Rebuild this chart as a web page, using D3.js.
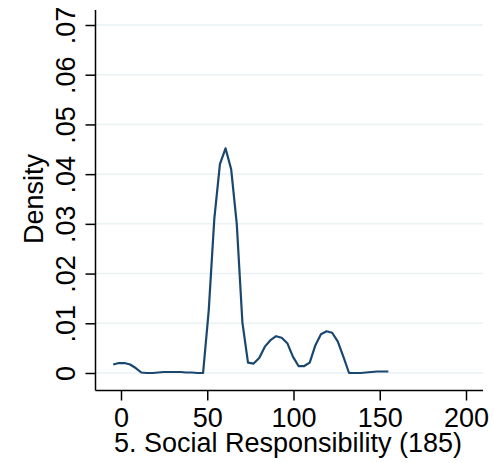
<!DOCTYPE html>
<html><head><meta charset="utf-8">
<script src="https://cdn.jsdelivr.net/npm/d3@7"></script>
<style>body{margin:0;background:#fff}svg{display:block}text{font-family:"Liberation Sans",Arial,sans-serif}</style>
</head><body>
<script>
const xValues = [-4.5,-1.25,2.01,5.27,8.52,11.78,15.03,18.29,21.54,24.8,28.05,31.3,34.56,37.82,41.07,44.33,47.58,50.84,54.09,57.35,60.6,63.86,67.11,70.37,73.62,76.88,80.13,83.39,86.64,89.9,93.15,96.41,99.66,102.9,106.2,109.4,112.7,115.9,119.2,122.4,125.7,129.0,132.2,135.5,138.7,142.0,145.2,148.5,151.7,155.0];
const density = [0.0017,0.0020,0.0020,0.0017,0.0010,0.0001,0.0,0.0,0.0001,0.0002,0.0002,0.0002,0.0002,0.0001,0.0001,0.0,0.0,0.0125,0.0310,0.0420,0.0452,0.0410,0.0300,0.0102,0.0021,0.0019,0.0030,0.0053,0.0066,0.0074,0.0071,0.0060,0.0033,0.0014,0.0014,0.0021,0.0056,0.0078,0.0084,0.0081,0.0063,0.0032,0.0,0.0,0.0,0.0001,0.0002,0.0003,0.0003,0.0003];
const xTicks = [0,50,100,150,200];
const yTicks = [0,0.01,0.02,0.03,0.04,0.05,0.06,0.07];
const yTickLabels = ["0",".01",".02",".03",".04",".05",".06",".07"];
const xTitle = "5. Social Responsibility (185)";
const yTitle = "Density";

(function(){
const W = 494, H = 463;
const FS = 27;
const svg = d3.select("body").append("svg").attr("width", W).attr("height", H);
const x = d3.scaleLinear().domain([0,200]).range([121,466]);
const y = d3.scaleLinear().domain([0,0.07]).range([373,25]);
const pl = 95.5, pr = 483, pt = 10, pb = 390.5;

// gridlines
svg.append("g").selectAll("line").data(yTicks).join("line")
  .attr("x1", pl).attr("x2", pr)
  .attr("y1", d => y(d)).attr("y2", d => y(d))
  .attr("stroke", "#eaf2f3").attr("stroke-width", 1.5);

// density line
const line = d3.line().x((d,i) => x(xValues[i])).y(d => y(d));
svg.append("path").datum(density).attr("d", line)
  .attr("fill", "none").attr("stroke", "#1a476f").attr("stroke-width", 2.2).attr("stroke-linejoin","round");

// y axis
const yAxis = d3.axisLeft(y).tickValues(yTicks).tickSize(10).tickPadding(6)
  .tickFormat((d,i) => yTickLabels[i]);
const gy = svg.append("g").attr("transform", `translate(${pl},0)`).call(yAxis);
gy.select(".domain").attr("d", `M0,${pt}V${pb}`).attr("stroke","#000").attr("stroke-width",1.5);
gy.selectAll(".tick line").attr("stroke","#000").attr("stroke-width",1.5);
gy.selectAll(".tick text")
  .attr("font-size", FS).attr("fill","#000")
  .attr("text-anchor","middle").attr("x", 0).attr("y", 0).attr("dy", 0)
  .attr("transform", "translate(-21,0) rotate(-90)");

// x axis
const xAxis = d3.axisBottom(x).tickValues(xTicks).tickSize(10).tickPadding(4);
const gx = svg.append("g").attr("transform", `translate(0,${pb})`).call(xAxis);
gx.select(".domain").attr("d", `M${pl},0H${pr}`).attr("stroke","#000").attr("stroke-width",1.5);
gx.selectAll(".tick line").attr("stroke","#000").attr("stroke-width",1.5);
gx.selectAll(".tick text").attr("font-size", FS).attr("fill","#000").attr("y", 36).attr("dy", 0);

// titles
svg.append("text").attr("x", 288).attr("y", 452).attr("text-anchor","middle")
  .attr("font-size", FS).text(xTitle);
svg.append("text").attr("transform", "translate(43,199) rotate(-90)").attr("text-anchor","middle")
  .attr("font-size", FS).text(yTitle);
})();
</script>
</body></html>
